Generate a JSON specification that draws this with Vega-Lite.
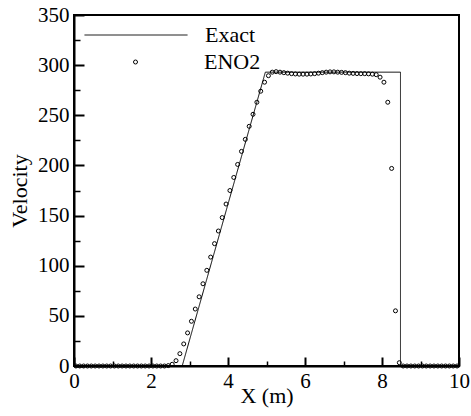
{
  "$schema": "https://vega.github.io/schema/vega-lite/v6.json",
  "width": 385,
  "height": 351,
  "autosize": {"type": "none"},
  "padding": {"left": 74, "top": 15, "right": 12, "bottom": 50},
  "background": "white",
  "config": {
    "font": "Times New Roman, Liberation Serif, serif",
    "view": {"stroke": "black", "strokeWidth": 2},
    "axis": {
      "domainColor": "black", "domainWidth": 2, "tickColor": "black",
      "labelColor": "black", "labelFont": "serif", "labelFontSize": 21,
      "titleFont": "serif", "titleFontSize": 22, "titleFontWeight": "normal", "titleColor": "black",
      "grid": false, "labelFlush": false, "labelOverlap": false
    },
    "axisX": {"labelFont": "serif", "titleFont": "serif"},
    "axisY": {"labelFont": "serif", "titleFont": "serif"},
    "axisQuantitative": {"labelFont": "serif", "titleFont": "serif"},
    "legend": {"labelFont": "Times New Roman, Liberation Serif, serif", "labelFontSize": 22, "labelColor": "black", "padding": 0, "labelBaseline": "middle", "labelAlign": "left"}
  },
  "datasets": {
    "exact": [
      {"x": 0, "v": 0}, {"x": 2.81, "v": 0}, {"x": 4.97, "v": 293}, {"x": 8.48, "v": 293}, {"x": 8.48, "v": 0}, {"x": 10, "v": 0}
    ],
    "eno": [
      {"x": 0.05, "v": 0}, {"x": 0.15, "v": 0}, {"x": 0.25, "v": 0}, {"x": 0.35, "v": 0}, {"x": 0.45, "v": 0},
      {"x": 0.55, "v": 0}, {"x": 0.65, "v": 0}, {"x": 0.75, "v": 0}, {"x": 0.85, "v": 0}, {"x": 0.95, "v": 0},
      {"x": 1.05, "v": 0}, {"x": 1.15, "v": 0}, {"x": 1.25, "v": 0}, {"x": 1.35, "v": 0}, {"x": 1.45, "v": 0},
      {"x": 1.55, "v": 0}, {"x": 1.65, "v": 0}, {"x": 1.75, "v": 0}, {"x": 1.85, "v": 0}, {"x": 1.95, "v": 0},
      {"x": 2.05, "v": 0}, {"x": 2.15, "v": 0}, {"x": 2.25, "v": 0}, {"x": 2.35, "v": 0}, {"x": 2.45, "v": 0.4},
      {"x": 2.55, "v": 1.7}, {"x": 2.65, "v": 5.3}, {"x": 2.75, "v": 12.3}, {"x": 2.85, "v": 22}, {"x": 2.95, "v": 33},
      {"x": 3.05, "v": 44.6}, {"x": 3.15, "v": 56.8}, {"x": 3.25, "v": 69}, {"x": 3.35, "v": 82}, {"x": 3.45, "v": 95.4},
      {"x": 3.55, "v": 108.6}, {"x": 3.65, "v": 122}, {"x": 3.75, "v": 134.6}, {"x": 3.85, "v": 148}, {"x": 3.95, "v": 161.5},
      {"x": 4.05, "v": 175}, {"x": 4.15, "v": 188}, {"x": 4.25, "v": 201}, {"x": 4.35, "v": 214}, {"x": 4.45, "v": 226},
      {"x": 4.55, "v": 239}, {"x": 4.65, "v": 251}, {"x": 4.75, "v": 263}, {"x": 4.85, "v": 274}, {"x": 4.95, "v": 283},
      {"x": 5.05, "v": 289.5}, {"x": 5.15, "v": 293}, {"x": 5.25, "v": 293.5}, {"x": 5.35, "v": 293}, {"x": 5.45, "v": 292.5},
      {"x": 5.55, "v": 292}, {"x": 5.65, "v": 291.5}, {"x": 5.75, "v": 291.2}, {"x": 5.85, "v": 291}, {"x": 5.95, "v": 291},
      {"x": 6.05, "v": 291}, {"x": 6.15, "v": 291.2}, {"x": 6.25, "v": 291.5}, {"x": 6.35, "v": 292}, {"x": 6.45, "v": 292.5},
      {"x": 6.55, "v": 293}, {"x": 6.65, "v": 293.3}, {"x": 6.75, "v": 293.3}, {"x": 6.85, "v": 293}, {"x": 6.95, "v": 292.8},
      {"x": 7.05, "v": 292.5}, {"x": 7.15, "v": 292}, {"x": 7.25, "v": 291.8}, {"x": 7.35, "v": 291.6}, {"x": 7.45, "v": 291.5},
      {"x": 7.55, "v": 291.5}, {"x": 7.65, "v": 291.3}, {"x": 7.75, "v": 291}, {"x": 7.85, "v": 290.5}, {"x": 7.95, "v": 288},
      {"x": 8.05, "v": 283}, {"x": 8.15, "v": 263}, {"x": 8.25, "v": 197}, {"x": 8.35, "v": 55}, {"x": 8.45, "v": 3.3},
      {"x": 8.55, "v": 0}, {"x": 8.65, "v": 0}, {"x": 8.75, "v": 0}, {"x": 8.85, "v": 0}, {"x": 8.95, "v": 0},
      {"x": 9.05, "v": 0}, {"x": 9.15, "v": 0}, {"x": 9.25, "v": 0}, {"x": 9.35, "v": 0}, {"x": 9.45, "v": 0},
      {"x": 9.55, "v": 0}, {"x": 9.65, "v": 0}, {"x": 9.75, "v": 0}, {"x": 9.85, "v": 0}, {"x": 9.95, "v": 0}
    ]
  },
  "resolve": {"axis": {"x": "independent", "y": "independent"}},
  "layer": [
    {
      "data": {"name": "exact"},
      "mark": {"type": "line", "color": "black", "strokeWidth": 1},
      "encoding": {
        "x": {"field": "x", "type": "quantitative",
          "scale": {"domain": [0, 10], "nice": false, "zero": false},
          "axis": {"orient": "bottom", "title": null, "values": [1, 3, 5, 7, 9], "tickSize": -5, "tickWidth": 1.5, "labels": false, "domain": false}},
        "y": {"field": "v", "type": "quantitative",
          "scale": {"domain": [0, 350], "nice": false},
          "axis": {"orient": "left", "title": null, "values": [25, 75, 125, 175, 225, 275, 325], "tickSize": -6, "tickWidth": 1.5, "labels": false, "domain": false}},
        "order": {"value": null},
        "strokeDash": {"datum": "Exact", "type": "nominal",
          "scale": {"domain": ["Exact"], "range": [[1, 0]]},
          "legend": {"orient": "none", "legendX": 10, "legendY": -32, "title": null, "symbolType": "stroke", "symbolSize": 10609, "symbolStrokeColor": "black", "symbolStrokeWidth": 1, "labelOffset": 17}}
      }
    },
    {
      "data": {"name": "eno"},
      "mark": {"type": "point", "filled": false, "color": "black", "size": 16, "strokeWidth": 1, "opacity": 1},
      "encoding": {
        "x": {"field": "x", "type": "quantitative",
          "axis": {"orient": "bottom", "title": "X (m)", "values": [0, 2, 4, 6, 8, 10], "tickSize": -9, "tickWidth": 2, "labelPadding": 13, "titlePadding": -6,
            "labelFont": "serif", "titleFont": "serif"}},
        "y": {"field": "v", "type": "quantitative",
          "axis": {"orient": "left", "title": "Velocity", "values": [0, 50, 100, 150, 200, 250, 300, 350], "tickSize": -10, "tickWidth": 2, "labelPadding": 15, "titlePadding": 6,
            "labelFont": "serif", "titleFont": "serif"}},
        "shape": {"datum": "ENO2", "type": "nominal",
          "scale": {"domain": ["ENO2"], "range": ["circle"]},
          "legend": {"orient": "none", "legendX": 50.5, "legendY": 36, "title": null, "symbolSize": 16, "symbolFillColor": "transparent", "symbolStrokeColor": "black", "symbolStrokeWidth": 1, "labelOffset": 57.5}}
      }
    }
  ]
}
